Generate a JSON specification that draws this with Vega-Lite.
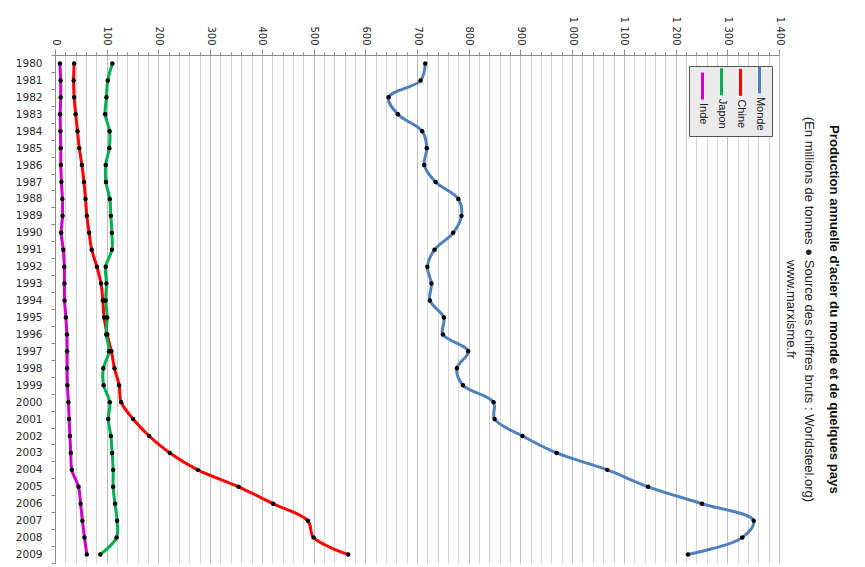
{
  "$schema": "https://vega.github.io/schema/vega-lite/v6.json",
  "autosize": "none",
  "width": 724,
  "height": 508,
  "padding": {"left": 55, "top": 55, "right": 86, "bottom": 4},
  "background": "white",
  "title": {
    "text": "Production annuelle d'acier du monde et de quelques pays",
    "subtitle": ["(En millions de tonnes \u25cf Source des chiffres bruts : Worldsteel.org)", "www.marxisme.fr"],
    "orient": "right",
    "anchor": "middle",
    "frame": "bounds",
    "offset": -1,
    "dx": 17,
    "font": "Liberation Sans",
    "fontSize": 13.2,
    "fontWeight": "bold",
    "color": "#111111",
    "subtitleFont": "Liberation Sans",
    "subtitleFontSize": 13,
    "subtitleColor": "#222222",
    "subtitleLineHeight": 18,
    "subtitlePadding": 12
  },
  "config": {
    "locale": {"number": {"decimal": ",", "thousands": " ", "grouping": [3], "currency": ["", " \u20ac"]}},
    "view": {"stroke": null},
    "axis": {"labelFont": "DejaVu Sans", "domainColor": "#8c8c8c", "tickColor": "#8c8c8c", "labelColor": "#2b2b2b"}
  },
  "data": {
    "values": [
      {"Year": 1980, "Monde": 716, "Chine": 37, "Japon": 111, "Inde": 9.5},
      {"Year": 1981, "Monde": 707, "Chine": 36, "Japon": 102, "Inde": 10.8},
      {"Year": 1982, "Monde": 645, "Chine": 37, "Japon": 99.5, "Inde": 11},
      {"Year": 1983, "Monde": 663, "Chine": 40, "Japon": 97, "Inde": 10},
      {"Year": 1984, "Monde": 710, "Chine": 43.5, "Japon": 105.6, "Inde": 10.5},
      {"Year": 1985, "Monde": 719, "Chine": 47, "Japon": 105, "Inde": 11.1},
      {"Year": 1986, "Monde": 714, "Chine": 52, "Japon": 98, "Inde": 11.3},
      {"Year": 1987, "Monde": 736, "Chine": 56, "Japon": 98.5, "Inde": 12.4},
      {"Year": 1988, "Monde": 780, "Chine": 59, "Japon": 106, "Inde": 14.3},
      {"Year": 1989, "Monde": 786, "Chine": 61.5, "Japon": 108, "Inde": 14.6},
      {"Year": 1990, "Monde": 770, "Chine": 66, "Japon": 110, "Inde": 12},
      {"Year": 1991, "Monde": 734, "Chine": 71, "Japon": 110, "Inde": 16},
      {"Year": 1992, "Monde": 720, "Chine": 81, "Japon": 98, "Inde": 18},
      {"Year": 1993, "Monde": 728, "Chine": 89, "Japon": 99.5, "Inde": 18.2},
      {"Year": 1994, "Monde": 725, "Chine": 92.5, "Japon": 98, "Inde": 18.5},
      {"Year": 1995, "Monde": 752, "Chine": 95, "Japon": 101, "Inde": 21},
      {"Year": 1996, "Monde": 750, "Chine": 101, "Japon": 99, "Inde": 23},
      {"Year": 1997, "Monde": 799, "Chine": 109, "Japon": 104.5, "Inde": 23.5},
      {"Year": 1998, "Monde": 777, "Chine": 115, "Japon": 93.5, "Inde": 23.5},
      {"Year": 1999, "Monde": 789, "Chine": 124, "Japon": 94, "Inde": 24},
      {"Year": 2000, "Monde": 848, "Chine": 128, "Japon": 106, "Inde": 26},
      {"Year": 2001, "Monde": 850, "Chine": 151, "Japon": 103, "Inde": 27.3},
      {"Year": 2002, "Monde": 904, "Chine": 182, "Japon": 108, "Inde": 28.8},
      {"Year": 2003, "Monde": 970, "Chine": 222, "Japon": 110.5, "Inde": 30.5},
      {"Year": 2004, "Monde": 1068, "Chine": 276, "Japon": 112.5, "Inde": 32.5},
      {"Year": 2005, "Monde": 1147, "Chine": 355, "Japon": 112.5, "Inde": 45.5},
      {"Year": 2006, "Monde": 1251, "Chine": 422, "Japon": 116, "Inde": 49.5},
      {"Year": 2007, "Monde": 1351, "Chine": 489, "Japon": 120, "Inde": 53},
      {"Year": 2008, "Monde": 1329, "Chine": 500, "Japon": 119, "Inde": 57},
      {"Year": 2009, "Monde": 1224, "Chine": 567, "Japon": 87.5, "Inde": 61.5}
    ]
  },
  "transform": [{"fold": ["Monde", "Chine", "Japon", "Inde"], "as": ["Series", "Value"]}],
  "encoding": {
    "x": {
      "field": "Value", "type": "quantitative",
      "scale": {"domain": [0, 1400], "nice": false, "zero": true},
      "axis": {
        "orient": "top", "title": null,
        "values": [0,20,40,60,80,100,120,140,160,180,200,220,240,260,280,300,320,340,360,380,400,420,440,460,480,500,520,540,560,580,600,620,640,660,680,700,720,740,760,780,800,820,840,860,880,900,920,940,960,980,1000,1020,1040,1060,1080,1100,1120,1140,1160,1180,1200,1220,1240,1260,1280,1300,1320,1340,1360,1380,1400],
        "format": ",d",
        "labelExpr": "datum.value % 100 == 0 ? datum.label : ''",
        "labelOverlap": false,
        "labelAngle": 90,
        "labelAlign": "right",
        "labelBaseline": "middle",
        "labelFontSize": 10,
        "labelPadding": 4,
        "tickSize": {"condition": {"test": "datum.value % 100 == 0", "value": 6}, "value": 3},
        "grid": true,
        "gridColor": {"condition": {"test": "datum.value % 100 == 0", "value": "#bdbdbd"}, "value": "#d6d6d6"},
        "gridWidth": 1
      }
    },
    "y": {
      "field": "Year", "type": "quantitative",
      "scale": {"domain": [1979.5, 2009.5], "nice": false, "zero": false, "reverse": true},
      "axis": {
        "orient": "left", "title": null, "grid": false,
        "values": [1979.5,1980,1980.5,1981,1981.5,1982,1982.5,1983,1983.5,1984,1984.5,1985,1985.5,1986,1986.5,1987,1987.5,1988,1988.5,1989,1989.5,1990,1990.5,1991,1991.5,1992,1992.5,1993,1993.5,1994,1994.5,1995,1995.5,1996,1996.5,1997,1997.5,1998,1998.5,1999,1999.5,2000,2000.5,2001,2001.5,2002,2002.5,2003,2003.5,2004,2004.5,2005,2005.5,2006,2006.5,2007,2007.5,2008,2008.5,2009,2009.5],
        "labelExpr": "datum.value % 1 == 0 ? '' + datum.value : ''",
        "labelOverlap": false,
        "labelBound": false,
        "labelFlush": false,
        "labelFontSize": 10.5,
        "labelPadding": 9,
        "tickSize": 4,
        "tickOpacity": {"condition": {"test": "datum.value % 1 == 0", "value": 0}, "value": 1}
      }
    }
  },
  "layer": [
    {
      "mark": {"type": "line", "interpolate": "catmull-rom", "strokeWidth": 3},
      "encoding": {
        "order": {"field": "Year", "type": "quantitative"},
        "color": {
          "field": "Series", "type": "nominal",
          "scale": {"domain": ["Inde", "Japon", "Chine", "Monde"], "range": ["#CC00CC", "#00B050", "#FF0000", "#4F81BD"]},
          "legend": {
            "title": null,
            "orient": "none",
            "legendX": 634,
            "legendY": 11,
            "direction": "horizontal",
            "fillColor": "#ebebeb",
            "strokeColor": "#555555",
            "padding": 5,
            "symbolType": "M0,-2L0,2",
            "symbolSize": 182,
            "symbolStrokeWidth": 3,
            "columnPadding": 3,
            "labelOffset": -6.75,
            "labelFont": "Liberation Sans",
            "labelFontSize": 11,
            "labelColor": "#222222",
            "encode": {
              "labels": {"update": {"angle": {"value": 90}, "align": {"value": "left"}, "baseline": {"value": "middle"}, "dx": {"value": 17}, "dy": {"value": 1}}}
            }
          }
        }
      }
    },
    {
      "mark": {"type": "point", "filled": true, "color": "black", "size": 20, "opacity": 1},
      "encoding": {}
    }
  ]
}
